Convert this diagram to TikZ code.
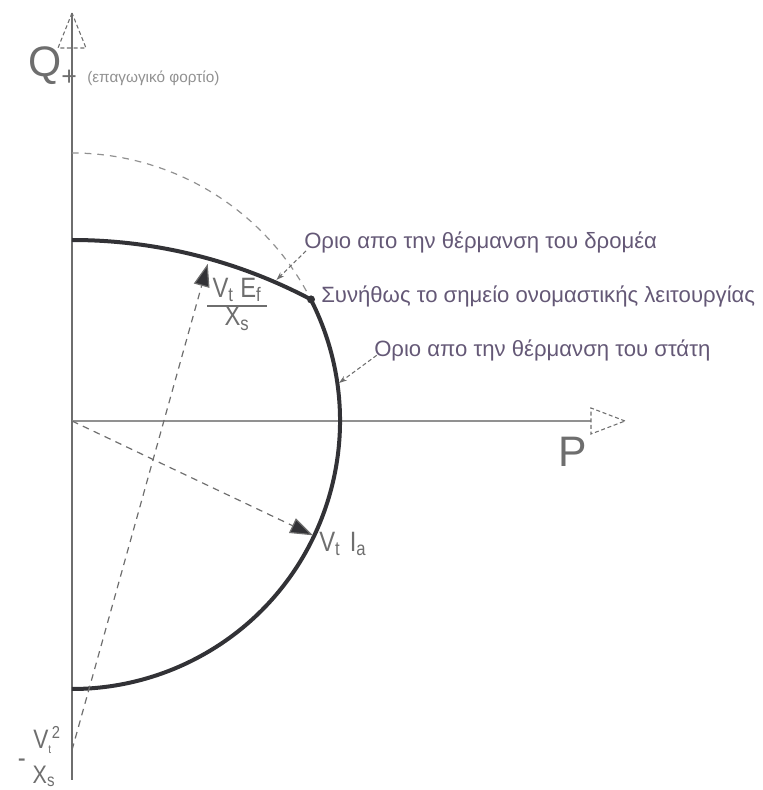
\documentclass[tikz,border=0pt]{standalone}
\usepackage{fontspec}
\setmainfont{Liberation Sans}
\newfontfamily\narrowsf[FakeStretch=0.85]{Liberation Sans}
\usetikzlibrary{arrows.meta}
\definecolor{txt}{RGB}{100,88,118}
\definecolor{curvec}{RGB}{50,50,54}
\definecolor{axisc}{RGB}{110,110,110}
\definecolor{faint}{RGB}{145,145,145}
\begin{document}
\begin{tikzpicture}[x=0.75pt,y=0.75pt,
  axisline/.style={draw=axisc, line width=1.1pt},
  hollowtip/.style={draw=axisc, line width=0.8pt, dash pattern=on 3pt off 2pt},
  limitcurve/.style={draw=curvec, line width=3pt, line join=round},
  guidearc/.style={draw=faint, line width=0.9pt, dash pattern=on 5pt off 4.5pt},
  phasor/.style={draw=axisc, line width=0.9pt, dash pattern=on 5pt off 4pt,
    -{Triangle[length=17pt,width=12pt,fill=curvec]}, shorten >=1pt},
  leader/.style={draw=axisc, line width=0.8pt, dash pattern=on 3pt off 2pt,
    -{Stealth[length=6pt,width=4pt]}},
  lbl/.style={text=txt, inner sep=0pt, font=\fontsize{16.6}{19}\selectfont},
  biglbl/.style={text=axisc, inner sep=0pt, font=\fontsize{32}{34}\selectfont},
  mathlbl/.style={text=axisc, inner sep=0pt, font=\narrowsf\fontsize{21}{23}\selectfont}
]
\useasboundingbox (0,0) rectangle (763,790);

% key points
\coordinate (O) at (72,369);
\coordinate (C) at (72,40);
\coordinate (Qtop) at (72,777);
\coordinate (Qbot) at (72,10);
\coordinate (Pend) at (591,369);
\coordinate (Ptip) at (625,369);
\coordinate (corner) at (311.0,490.6);
\coordinate (Ia) at (314.1,254.1);
\coordinate (Ef) at (208.1,527.4);
\coordinate (rotorpt) at (276.4,510.0);
\coordinate (statorpt) at (339.0,407.0);

% axes
\draw[axisline] (Qbot) -- (Qtop);
\draw[hollowtip] (Qtop) -- (58,742) -- (86,742) -- cycle;
\draw[axisline, draw=faint] (O) -- (Pend);
\draw[hollowtip] (Ptip) -- (591,382) -- (591,356) -- cycle;

% stator circle continuation (dashed)
\draw[guidearc] (72,637) arc[start angle=90, end angle=26.99, radius=268];

% capability limit curve: rotor arc then stator arc
\draw[limitcurve] (72,550) arc[start angle=90, end angle=62.08, radius=510]
  arc[start angle=26.99, end angle=-90, radius=268];

% rated point
\fill[curvec] (corner) circle[radius=4];

% phasors
\draw[phasor] (O) -- (Ia);
\draw[phasor] (C) -- (Ef);

% labels
\node[biglbl, anchor=west] (Qlbl) at (28,724) {Q\raisebox{-7pt}{\fontsize{20}{20}\selectfont +}};
\node[text=faint, inner sep=0pt, anchor=west, font=\fontsize{11.5}{12}\selectfont] (Qnote) at (87,712) {(επαγωγικό φορτίο)};
\node[biglbl] (Plbl) at (573,338) {P};

\node[lbl, anchor=west] (rotorlbl) at (304,548) {Οριο απο την θέρμανση του δρομέα};
\node[lbl, anchor=west] (ratedlbl) at (321,494) {Συνήθως το σημείο ονομαστικής λειτουργίας};
\node[lbl, anchor=west] (statorlbl) at (374,440) {Οριο απο την θέρμανση του στάτη};

\path (rotorlbl.south west) ++(2,2) coordinate (rl);
\draw[leader] (rl) -- (rotorpt);
\draw[leader] ([xshift=2pt,yshift=-4pt]statorlbl.west) -- (statorpt);

\node[mathlbl, anchor=west] (Ialbl) at (319,246) {V\textsubscript{t}\,\,I\textsubscript{a}};

\node[mathlbl] (Eflbl) at (237,484) {\setlength{\arrayrulewidth}{1pt}\setlength{\tabcolsep}{4pt}\renewcommand{\arraystretch}{0.9}%
  \begin{tabular}{c}V\textsubscript{t} E\textsubscript{f}\\\hline X\textsubscript{s}\end{tabular}};

\node[mathlbl, anchor=east] (minus) at (26,27) {-};
\node[mathlbl, font=\narrowsf\fontsize{20}{20}\selectfont, anchor=west] (V2lbl) at (33,50) {V\textsubscript{\fontsize{9}{9}\selectfont t}\textsuperscript{\fontsize{13}{13}\selectfont 2}};
\node[mathlbl, font=\narrowsf\fontsize{19}{19}\selectfont, anchor=south] (Xslbl) at (44,3) {X\textsubscript{s}};
\end{tikzpicture}
\end{document}
